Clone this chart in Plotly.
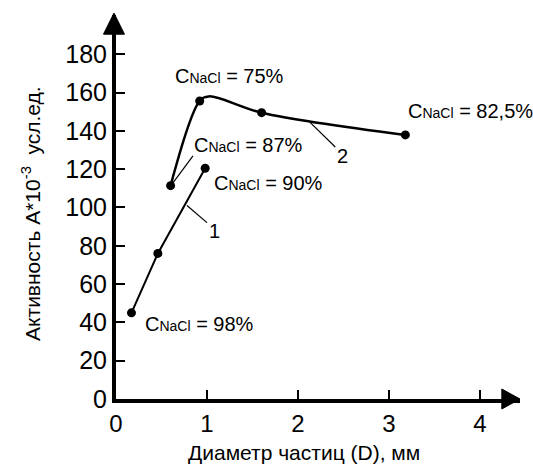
import plotly.graph_objects as go

# Series 1 (points with concentration labels)
d1 = [0.17, 0.46, 0.98]
a1 = [45, 76, 120.5]

# Series 2 (measured points)
d2 = [0.60, 0.92, 1.60, 3.18]
a2 = [111.4, 155.6, 149.5, 137.9]

# Series 2 smooth curve through the points (peak)
curve2_d = [0.60, 0.92, 1.02, 1.60, 3.18]
curve2_a = [111.4, 155.6, 158.0, 149.5, 137.9]

y_ticks = [0, 20, 40, 60, 80, 100, 120, 140, 160, 180]
x_ticks = [0, 1, 2, 3, 4]

FONT = "Arial, Liberation Sans, sans-serif"

fig = go.Figure()
fig.add_trace(go.Scatter(x=d1, y=a1, mode="lines+markers",
                         line=dict(color="black", width=2),
                         marker=dict(color="black", size=9),
                         showlegend=False, hoverinfo="skip"))
fig.add_trace(go.Scatter(x=curve2_d, y=curve2_a, mode="lines",
                         line=dict(color="black", width=2.5, shape="spline", smoothing=1.0),
                         showlegend=False, hoverinfo="skip"))
fig.add_trace(go.Scatter(x=d2, y=a2, mode="markers",
                         marker=dict(color="black", size=9),
                         showlegend=False, hoverinfo="skip"))

def clabel(val):
    return "C<span style='font-size:14px'>NaCl</span> = " + val

ann = []
for (xx, yy, txt) in [(0.626, 168.7, clabel("75%")),
                      (0.835, 132.6, clabel("87%")),
                      (1.055, 112.8, clabel("90%")),
                      (3.19, 150.6, clabel("82,5%")),
                      (0.297, 39.2, clabel("98%"))]:
    ann.append(dict(x=xx, y=yy, xref="x", yref="y", text=txt, showarrow=False,
                    xanchor="left", yanchor="middle",
                    font=dict(family=FONT, size=20, color="black")))
ann.append(dict(x=1.08, y=87.5, xref="x", yref="y", text="1", showarrow=False,
                font=dict(family=FONT, size=20, color="black")))
ann.append(dict(x=2.49, y=127.0, xref="x", yref="y", text="2", showarrow=False,
                font=dict(family=FONT, size=20, color="black")))
ann.append(dict(x=0, y=0.482, xref="paper", yref="paper", xshift=-85,
                text="Активность A*10<sup>-3</sup>  усл.ед.", textangle=-90,
                showarrow=False, xanchor="center", yanchor="middle",
                font=dict(family=FONT, size=21, color="black")))
ann.append(dict(x=0.465, y=0, xref="paper", yref="paper", yshift=-53,
                text="Диаметр частиц (D), мм", showarrow=False,
                xanchor="center", yanchor="middle",
                font=dict(family=FONT, size=21, color="black")))

shapes = [
    # leader lines
    dict(type="line", xref="x", yref="y", x0=1.0, y0=92.1, x1=0.78, y1=101,
         line=dict(color="black", width=1.2)),
    dict(type="line", xref="x", yref="y", x0=2.41, y0=131.6, x1=2.13, y1=144.6,
         line=dict(color="black", width=1.2)),
    dict(type="line", xref="x", yref="y", x0=0.846, y0=126.9, x1=0.626, y1=112.8,
         line=dict(color="black", width=1.2)),
    # axis arrowheads
    dict(type="path", xref="paper", yref="paper",
         path="M 1.0,0 L 0.955,0.026 L 0.955,-0.026 Z",
         fillcolor="black", line=dict(color="black", width=1)),
    dict(type="path", xref="paper", yref="paper",
         path="M -0.005,1.005 L -0.031,0.95 L 0.021,0.95 Z",
         fillcolor="black", line=dict(color="black", width=1)),
]

fig.update_layout(
    width=533, height=465,
    margin=dict(l=116, r=13, t=15, b=66),
    paper_bgcolor="white", plot_bgcolor="white",
    annotations=ann, shapes=shapes,
    font=dict(family=FONT, color="black"),
)
fig.update_xaxes(range=[0, 4.44], tickvals=x_ticks, ticktext=[str(v) for v in x_ticks],
                 showline=True, linecolor="black", linewidth=4,
                 ticks="inside", ticklen=9, tickwidth=2, tickcolor="black",
                 showgrid=False, zeroline=False,
                 tickfont=dict(family=FONT, size=24, color="black"))
fig.update_yaxes(range=[0, 200.5], tickvals=y_ticks, ticktext=[str(v) for v in y_ticks],
                 showline=True, linecolor="black", linewidth=4,
                 ticks="inside", ticklen=9, tickwidth=2, tickcolor="black",
                 showgrid=False, zeroline=False,
                 tickfont=dict(family=FONT, size=25, color="black"))

fig.write_html("out.html", config={"displayModeBar": False},
               post_script="document.body.style.margin='0';document.body.style.padding='0';")
